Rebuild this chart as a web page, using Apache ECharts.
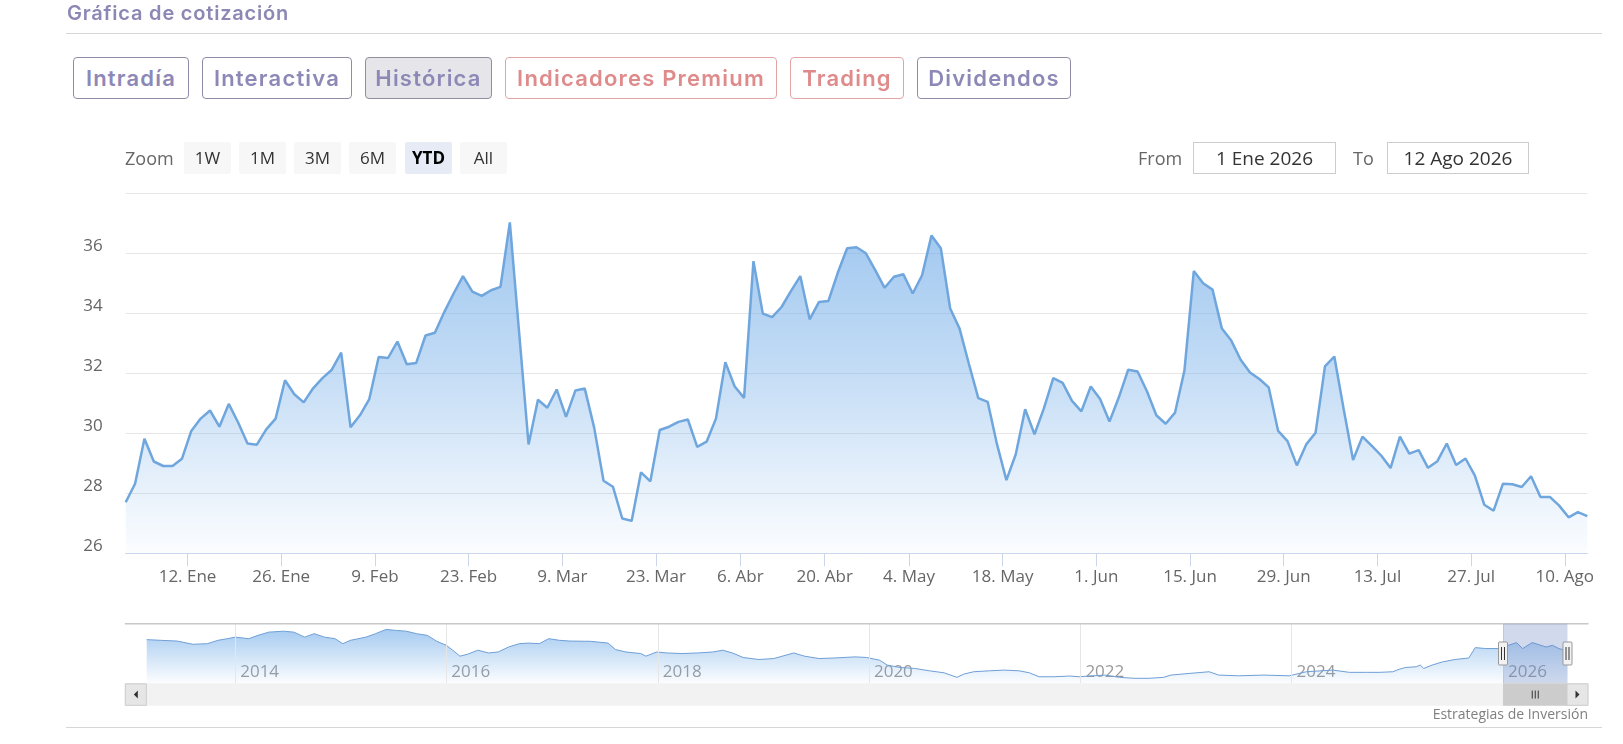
<!DOCTYPE html>
<html lang="es">
<head>
<meta charset="utf-8">
<title>Gráfica de cotización</title>
<script src="https://cdn.jsdelivr.net/npm/echarts@6.0.0/dist/echarts.min.js"></script>
<style>
html,body{margin:0;padding:0;background:#fff;width:1623px;height:744px;overflow:hidden;}
#chart{position:absolute;left:0;top:0;width:1623px;height:744px;}
.ui{position:absolute;z-index:2;white-space:nowrap;box-sizing:border-box;}
.title{left:67px;top:0;height:27px;line-height:27px;font-family:Inter,'Noto Sans',sans-serif;font-weight:600;font-size:20px;letter-spacing:0.8px;color:#8c87b4;}
.rule{position:absolute;z-index:2;left:66px;width:1536px;height:1px;background:#d6d6d6;}
.tab{top:57px;height:42px;border:1px solid #8e8ca6;border-radius:4px;font-family:Inter,'Noto Sans',sans-serif;font-weight:600;font-size:22px;letter-spacing:1.2px;line-height:40px;text-align:center;color:#8d88b6;background:#fff;}
.tab.red{border-color:#e3a3a3;color:#df8a8b;}
.tab.on{background:#e5e5ea;border-color:#8e8e9e;}
.zlab{left:125px;top:142px;height:32px;line-height:32px;font-family:'Open Sans',sans-serif;font-size:18px;color:#666;}
.zb{top:142px;height:32px;width:47px;line-height:32px;background:#f7f7f7;border-radius:2px;font-family:'Open Sans',sans-serif;font-size:17px;color:#333;text-align:center;}
.zb.on{background:#e6ebf5;font-weight:700;color:#000;}
.rlab{top:142px;height:32px;line-height:32px;font-family:'Open Sans',sans-serif;font-size:18px;color:#666;}
.rbox{top:142px;height:32px;border:1px solid #cccccc;line-height:30px;text-align:center;font-family:'Open Sans',sans-serif;font-size:19px;color:#333;background:#fff;}
.credit{right:35px;top:705px;height:18px;line-height:18px;font-family:'Open Sans',sans-serif;font-size:14px;color:#808080;}
</style>
</head>
<body>
<div id="chart"></div>

<div class="ui title">Gráfica de cotización</div>
<div class="rule" style="top:33px"></div>

<div class="ui tab" style="left:73px;width:116px">Intradía</div>
<div class="ui tab" style="left:202px;width:150px">Interactiva</div>
<div class="ui tab on" style="left:365px;width:127px">Histórica</div>
<div class="ui tab red" style="left:505px;width:272px">Indicadores Premium</div>
<div class="ui tab red" style="left:790px;width:114px">Trading</div>
<div class="ui tab" style="left:917px;width:154px">Dividendos</div>

<div class="ui zlab">Zoom</div>
<div class="ui zb" style="left:184px">1W</div>
<div class="ui zb" style="left:239px">1M</div>
<div class="ui zb" style="left:294px">3M</div>
<div class="ui zb" style="left:349px">6M</div>
<div class="ui zb on" style="left:405px">YTD</div>
<div class="ui zb" style="left:460px">All</div>

<div class="ui rlab" style="left:1138px">From</div>
<div class="ui rbox" style="left:1193px;width:143px">1 Ene 2026</div>
<div class="ui rlab" style="left:1353px">To</div>
<div class="ui rbox" style="left:1387px;width:142px">12 Ago 2026</div>

<div class="ui credit">Estrategias de Inversión</div>
<div class="rule" style="top:727px"></div>

<script>
// ---------------- DATA ----------------
// Trading sessions shown in the YTD window (weekdays, market holidays removed)
const rangeStart = '2026-01-01';
const rangeEnd = '2026-08-12';
const marketHolidays = ['2026-04-03', '2026-04-06', '2026-05-01'];

// Daily closing prices, one per trading session
const closePrices = [
  27.70, 28.32, 29.82, 29.06, 28.91, 28.91, 29.15, 30.08, 30.49, 30.76,
  30.22, 30.98, 30.36, 29.66, 29.62, 30.13, 30.49, 31.77, 31.30, 31.03,
  31.50, 31.84, 32.12, 32.69, 30.20, 30.60, 31.14, 32.54, 32.51, 33.06,
  32.30, 32.34, 33.26, 33.35, 34.04, 34.66, 35.24, 34.72, 34.58, 34.77,
  34.88, 37.03, 33.33, 29.63, 31.12, 30.85, 31.46, 30.55, 31.43, 31.49,
  30.19, 28.42, 28.22, 27.16, 27.08, 28.70, 28.40, 30.11, 30.22, 30.38,
  30.46, 29.55, 29.72, 30.49, 32.37, 31.56, 31.18, 35.74, 33.99, 33.87,
  34.21, 34.74, 35.24, 33.80, 34.38, 34.41, 35.35, 36.17, 36.20, 36.00,
  35.44, 34.85, 35.22, 35.30, 34.66, 35.27, 36.59, 36.17, 34.16, 33.49,
  32.31, 31.17, 31.05, 29.63, 28.44, 29.30, 30.80, 29.97, 30.83, 31.84,
  31.68, 31.08, 30.73, 31.56, 31.14, 30.39, 31.20, 32.12, 32.06, 31.40,
  30.60, 30.32, 30.69, 32.09, 35.41, 35.00, 34.79, 33.49, 33.09, 32.45,
  32.03, 31.81, 31.53, 30.08, 29.74, 28.93, 29.63, 30.02, 32.23, 32.56,
  30.80, 29.11, 29.89, 29.58, 29.26, 28.84, 29.89, 29.32, 29.44, 28.85,
  29.07, 29.66, 28.94, 29.16, 28.59, 27.62, 27.42, 28.32, 28.30, 28.21,
  28.57, 27.88, 27.88, 27.59, 27.20, 27.37, 27.24
];

// Axis tick labels (dates and their text)
const tickDates = ['2026-01-12','2026-01-26','2026-02-09','2026-02-23','2026-03-09','2026-03-23',
  '2026-04-06','2026-04-20','2026-05-04','2026-05-18','2026-06-01','2026-06-15','2026-06-29',
  '2026-07-13','2026-07-27','2026-08-10'];
const tickLabels = ['12. Ene','26. Ene','9. Feb','23. Feb','9. Mar','23. Mar','6. Abr','20. Abr',
  '4. May','18. May','1. Jun','15. Jun','29. Jun','13. Jul','27. Jul','10. Ago'];
const priceMin = 26;
const priceMax = 38;
const priceStep = 2;

// Navigator: long-term history (sampled)
const navDates = [
  '2013-03-01','2013-04-20','2013-06-14','2013-08-08','2013-09-27','2013-11-02','2013-12-05','2014-01-01',
  '2014-02-17','2014-03-21','2014-04-27','2014-06-17','2014-07-23','2014-08-29','2014-10-01','2014-11-06',
  '2014-12-12','2015-01-08','2015-02-03','2015-03-29','2015-05-01','2015-06-07','2015-07-13','2015-08-15',
  '2015-09-20','2015-10-27','2015-11-29','2016-01-01','2016-01-23','2016-02-17','2016-03-14','2016-04-19',
  '2016-05-26','2016-06-28','2016-08-03','2016-09-09','2016-10-12','2016-11-17','2016-12-20','2017-01-26',
  '2017-03-04','2017-05-12','2017-07-13','2017-08-08','2017-09-13','2017-11-03','2017-11-21','2017-12-28',
  '2018-02-03','2018-03-26','2018-05-19','2018-07-09','2018-08-14','2018-09-16','2018-10-23','2018-12-16',
  '2019-02-06','2019-04-16','2019-05-23','2019-07-13','2019-09-06','2019-11-14','2019-12-24','2020-02-07',
  '2020-03-04','2020-04-17','2020-06-07','2020-07-28','2020-09-17','2020-10-31','2020-11-25','2020-12-28',
  '2021-02-21','2021-04-13','2021-06-03','2021-07-09','2021-08-11','2021-10-01','2021-11-25','2021-12-28',
  '2022-01-30','2022-03-26','2022-05-16','2022-07-06','2022-08-26','2022-10-16','2022-11-10','2023-01-12',
  '2023-03-22','2023-04-24','2023-07-02','2023-09-27','2023-12-24','2024-02-21','2024-05-22','2024-07-19',
  '2024-09-16','2024-10-30','2024-12-16','2025-01-08','2025-01-30','2025-03-07','2025-03-21','2025-04-02',
  '2025-05-01','2025-06-06','2025-07-19','2025-09-05','2025-09-27','2025-11-02','2025-11-24','2025-12-24',
  '2026-01-12','2026-02-17','2026-03-10','2026-04-12','2026-05-05','2026-05-30','2026-06-21','2026-07-13',
  '2026-08-01','2026-08-12'
];
const navValues = [
  38.7, 38.1, 37.5, 34.8, 35.3, 38.1, 39.5, 40.8,
  39.5, 42.3, 45.0, 45.8, 45.0, 40.8, 43.7, 40.8,
  39.5, 35.3, 38.1, 40.8, 43.7, 47.3, 46.4, 45.8,
  43.7, 42.3, 37.3, 33.9, 29.8, 24.8, 26.4, 29.8,
  27.5, 28.3, 32.5, 35.3, 35.8, 35.3, 39.5, 38.1,
  37.5, 37.3, 35.8, 30.3, 28.3, 27.0, 24.8, 28.3,
  27.5, 27.0, 27.5, 28.3, 29.8, 27.5, 23.7, 22.0,
  22.8, 27.5, 24.8, 22.8, 23.3, 24.2, 23.7, 21.4,
  17.3, 15.3, 14.5, 12.5, 10.8, 7.0, 9.8, 11.7,
  12.5, 13.1, 12.5, 10.8, 7.5, 7.5, 8.1, 7.5,
  8.1, 8.9, 7.0, 6.2, 6.2, 7.0, 8.9, 10.3,
  11.7, 8.9, 8.3, 8.9, 8.3, 11.7, 13.1, 11.2,
  11.2, 11.2, 11.7, 13.9, 15.3, 15.9, 17.3, 14.5,
  17.3, 20.0, 22.0, 23.3, 32.0, 31.2, 31.2, 31.2,
  33.3, 36.2, 31.2, 36.2, 34.5, 32.5, 33.9, 31.2,
  30.0, 30.0
];
const navYears = [2014, 2016, 2018, 2020, 2022, 2024, 2026];

// ---------------- BUILD ----------------
function iso(d) {
  const m = String(d.getUTCMonth() + 1).padStart(2, '0');
  const day = String(d.getUTCDate()).padStart(2, '0');
  return d.getUTCFullYear() + '-' + m + '-' + day;
}
function buildTradingDays(start, end, holidays) {
  const out = [];
  const d = new Date(start + 'T00:00:00Z');
  const e = new Date(end + 'T00:00:00Z');
  while (d <= e) {
    const wd = d.getUTCDay();
    const s = iso(d);
    if (wd !== 0 && wd !== 6 && holidays.indexOf(s) < 0) out.push(s);
    d.setUTCDate(d.getUTCDate() + 1);
  }
  return out;
}
const tradingDays = buildTradingDays(rangeStart, rangeEnd, marketHolidays);

// Ordinal (session-index) positions of the date ticks; midnight falls just before the session point
const TICK_SHIFT = 0.4;
const tickPositions = tickDates.map(function (d) {
  const i = tradingDays.findIndex(function (t) { return t >= d; });
  return i - TICK_SHIFT;
});
function labelFor(v) {
  for (let k = 0; k < tickPositions.length; k++) {
    if (Math.abs(tickPositions[k] - v) < 1e-6) return tickLabels[k];
  }
  return '';
}

function ts(s) { return Date.parse(s + 'T00:00:00Z'); }
const mainData = closePrices.map(function (v, i) { return [i, v]; });
const navData = navDates.map(function (d, i) { return [ts(d), navValues[i]]; });
const navYearTs = navYears.map(function (y) { return Date.UTC(y, 0, 1); });
function yearLabel(v) {
  const k = navYearTs.indexOf(v);
  return k >= 0 ? String(navYears[k]) : '';
}

const BLUE = '120,176,233';
function fade(stops) {
  return { type: 'linear', x: 0, y: 0, x2: 0, y2: 1,
    colorStops: stops.map(function (s) { return { offset: s[0], color: 'rgba(' + BLUE + ',' + s[1] + ')' }; }) };
}

const FONT = "'Open Sans', sans-serif";
const chart = echarts.init(document.getElementById('chart'), null, { renderer: 'canvas' });

const option = {
  animation: false,
  backgroundColor: '#ffffff',
  textStyle: { fontFamily: FONT },
  grid: [
    { left: 125.7, top: 193.3, width: 1461.6, height: 360 },
    { left: 146.7, top: 623.8, width: 1420.8, height: 59.5 }
  ],
  xAxis: [
    {
      type: 'value', gridIndex: 0, min: 0, max: tradingDays.length - 1,
      axisLine: { show: true, lineStyle: { color: '#ccd6eb', width: 1 } },
      axisTick: { show: true, length: 13, customValues: tickPositions, lineStyle: { color: '#ccd6eb' } },
      axisLabel: { customValues: tickPositions, formatter: labelFor, color: '#666666',
        fontFamily: FONT, fontSize: 17, margin: 15 },
      splitLine: { show: false }
    },
    {
      type: 'value', gridIndex: 1, min: 'dataMin', max: 'dataMax',
      axisLine: { show: false }, axisTick: { show: false }, splitLine: { show: false },
      axisLabel: { inside: true, customValues: navYearTs, formatter: yearLabel,
        align: 'left', padding: [0, 0, 0, 5], color: '#999999', fontFamily: FONT, fontSize: 17, margin: 3 }
    }
  ],
  yAxis: [
    {
      type: 'value', gridIndex: 0, min: priceMin, max: priceMax, interval: priceStep,
      axisLine: { show: false }, axisTick: { show: false },
      splitLine: { show: true, lineStyle: { color: '#e6e6e6', width: 1 } },
      axisLabel: { color: '#666666', fontFamily: FONT, fontSize: 17, margin: 23,
        verticalAlign: 'bottom', lineHeight: 14, showMaxLabel: false }
    },
    { type: 'value', gridIndex: 1, min: 2, max: 52, show: false, splitLine: { show: false } }
  ],
  series: [
    {
      name: 'Cotización', type: 'line', xAxisIndex: 0, yAxisIndex: 0, data: mainData,
      symbol: 'none', showSymbol: false, silent: true,
      lineStyle: { width: 2.5, color: '#6fa6dd' }, itemStyle: { color: '#6fa6dd' },
      areaStyle: { color: fade([[0, 1], [0.4, 0.68], [1, 0.04]]) }
    },
    {
      name: 'Navegador', type: 'line', xAxisIndex: 1, yAxisIndex: 1, data: navData,
      symbol: 'none', showSymbol: false, silent: true,
      lineStyle: { width: 1, color: '#6f9fd6' }, itemStyle: { color: '#6f9fd6' },
      areaStyle: { color: fade([[0, 0.95], [1, 0.03]]) },
      markLine: { silent: true, symbol: 'none', label: { show: false },
        emphasis: { disabled: true },
        lineStyle: { color: '#e6e6e6', width: 1, type: 'solid' },
        data: navYearTs.map(function (t) { return { xAxis: t }; }) }
    }
  ]
};
chart.setOption(option);

// Navigator mask, handles and scrollbar placed with the navigator's own scale
const selStart = chart.convertToPixel({ xAxisIndex: 1 }, ts(tradingDays[0]));
const selEnd = chart.convertToPixel({ xAxisIndex: 1 }, ts(tradingDays[tradingDays.length - 1]));
const navTop = 623.8, navBottom = 683.3, barH = 22.5;
const barLeft = 124.8, barRight = 1588.5, btnW = 21;
const Z = 100;
function handle(x) {
  return [
    { type: 'rect', z: Z + 2, shape: { x: x - 4.5, y: 642, width: 9, height: 23, r: 1 },
      style: { fill: '#f2f2f2', stroke: '#999999', lineWidth: 1 } },
    { type: 'line', z: Z + 3, shape: { x1: x - 1.5, y1: 647, x2: x - 1.5, y2: 660 }, style: { stroke: '#333', lineWidth: 1 } },
    { type: 'line', z: Z + 3, shape: { x1: x + 1.5, y1: 647, x2: x + 1.5, y2: 660 }, style: { stroke: '#333', lineWidth: 1 } }
  ];
}
const mid = (selStart + selEnd) / 2;
const gy = navBottom + barH / 2;
const graphics = [
  { type: 'line', z: Z, shape: { x1: barLeft, y1: navTop, x2: barRight, y2: navTop }, style: { stroke: '#c8c8c8', lineWidth: 1.5 } },
  { type: 'rect', z: Z, shape: { x: selStart, y: navTop, width: selEnd - selStart, height: navBottom - navTop },
    style: { fill: 'rgba(102,133,194,0.3)' } },
  { type: 'rect', z: Z, shape: { x: barLeft, y: navBottom, width: barRight - barLeft, height: barH }, style: { fill: '#f2f2f2' } },
  { type: 'rect', z: Z + 1, shape: { x: selStart, y: navBottom, width: selEnd - selStart, height: barH }, style: { fill: '#cccccc' } },
  { type: 'line', z: Z + 2, shape: { x1: mid - 3, y1: gy - 4, x2: mid - 3, y2: gy + 4 }, style: { stroke: '#333', lineWidth: 1 } },
  { type: 'line', z: Z + 2, shape: { x1: mid, y1: gy - 4, x2: mid, y2: gy + 4 }, style: { stroke: '#333', lineWidth: 1 } },
  { type: 'line', z: Z + 2, shape: { x1: mid + 3, y1: gy - 4, x2: mid + 3, y2: gy + 4 }, style: { stroke: '#333', lineWidth: 1 } },
  { type: 'rect', z: Z + 1, shape: { x: barLeft + 0.5, y: navBottom + 0.5, width: btnW, height: barH - 1 },
    style: { fill: '#e6e6e6', stroke: '#cccccc', lineWidth: 1 } },
  { type: 'polygon', z: Z + 2, shape: { points: [[barLeft + 13, gy - 4], [barLeft + 13, gy + 4], [barLeft + 9, gy]] }, style: { fill: '#333' } },
  { type: 'rect', z: Z + 1, shape: { x: barRight - btnW - 0.5, y: navBottom + 0.5, width: btnW, height: barH - 1 },
    style: { fill: '#e6e6e6', stroke: '#cccccc', lineWidth: 1 } },
  { type: 'polygon', z: Z + 2, shape: { points: [[barRight - 13, gy - 4], [barRight - 13, gy + 4], [barRight - 9, gy]] }, style: { fill: '#333' } }
].concat(handle(selStart)).concat(handle(selEnd));
chart.setOption({ graphic: { elements: graphics } });
</script>
</body>
</html>
